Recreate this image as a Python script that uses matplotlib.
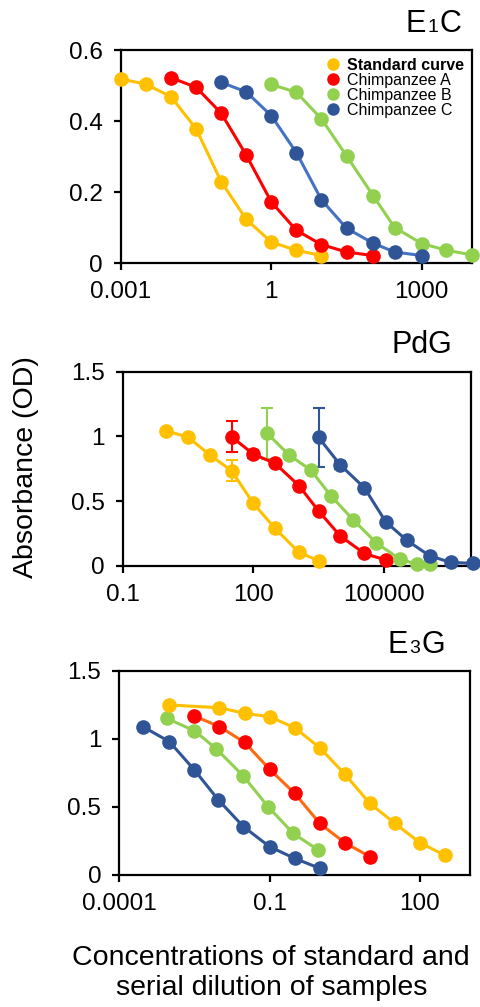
import matplotlib
matplotlib.use('Agg')
import matplotlib.pyplot as plt
from matplotlib.offsetbox import TextArea, HPacker, AnchoredOffsetbox

plt.rcParams['font.family'] = ['Liberation Sans', 'DejaVu Sans']

YELLOW = '#FFC000'
RED = '#FF0000'
GREEN = '#92D050'
BLUE = '#2F5597'

labels = ['Standard curve', 'Chimpanzee A', 'Chimpanzee B', 'Chimpanzee C']

# E1C
e1c_std_x = [0.001, 0.00316, 0.01, 0.0316, 0.1, 0.316, 1, 3.16, 10]
e1c_std_y = [0.518, 0.504, 0.468, 0.378, 0.229, 0.123, 0.059, 0.036, 0.021]
e1c_a_x = [0.01, 0.0316, 0.1, 0.316, 1, 3.16, 10, 31.6, 107]
e1c_a_y = [0.522, 0.495, 0.422, 0.304, 0.172, 0.092, 0.052, 0.031, 0.021]
e1c_b_x = [1, 3.16, 10, 31.6, 107, 288, 1000, 3090, 10000]
e1c_b_y = [0.503, 0.481, 0.406, 0.302, 0.190, 0.100, 0.055, 0.036, 0.023]
e1c_c_x = [0.1, 0.316, 1, 3.16, 10, 31.6, 107, 288, 1000]
e1c_c_y = [0.509, 0.482, 0.415, 0.311, 0.178, 0.098, 0.056, 0.031, 0.021]

# PdG
pdg_std_x = [1, 3.16, 10, 31.6, 100, 316, 1120, 3160]
pdg_std_y = [1.041, 0.995, 0.856, 0.735, 0.482, 0.289, 0.103, 0.039]
pdg_std_err = [0, 0, 0, 0.08, 0, 0, 0, 0]
pdg_a_x = [31.6, 100, 316, 1120, 3160, 10000, 35500, 110000]
pdg_a_y = [0.997, 0.863, 0.791, 0.619, 0.423, 0.229, 0.095, 0.044]
pdg_a_err = [0.12, 0.03, 0, 0, 0, 0, 0, 0]
pdg_b_x = [209, 661, 2090, 6030, 20000, 66100, 229000, 562000, 1120000]
pdg_b_y = [1.023, 0.856, 0.74, 0.541, 0.353, 0.178, 0.052, 0.012, 0.012]
pdg_b_err = [0.2, 0, 0, 0, 0, 0, 0, 0, 0]
pdg_c_x = [3160, 10000, 35500, 110000, 331000, 1120000, 3390000, 11200000]
pdg_c_y = [0.992, 0.778, 0.603, 0.34, 0.198, 0.077, 0.026, 0.018]
pdg_c_err = [0.23, 0.03, 0, 0, 0, 0, 0, 0]

# E3G
e3g_std_x = [0.001, 0.01, 0.0316, 0.1, 0.316, 1, 3.16, 10, 31.6, 100, 316]
e3g_std_y = [1.248, 1.228, 1.187, 1.162, 1.081, 0.935, 0.741, 0.526, 0.379, 0.237, 0.144]
e3g_a_x = [0.00316, 0.01, 0.0316, 0.1, 0.316, 1, 3.16, 10]
e3g_a_y = [1.167, 1.089, 0.974, 0.776, 0.6, 0.379, 0.237, 0.135]
e3g_b_x = [0.00088, 0.00316, 0.0087, 0.0295, 0.093, 0.295, 0.93]
e3g_b_y = [1.15, 1.059, 0.925, 0.729, 0.502, 0.306, 0.184]
e3g_c_x = [0.000295, 0.001, 0.00316, 0.0095, 0.03, 0.1, 0.316, 1]
e3g_c_y = [1.089, 0.979, 0.771, 0.551, 0.355, 0.208, 0.122, 0.049]

fig = plt.figure(figsize=(4.8, 10.07), dpi=100)
ax1 = fig.add_axes([0.252, 0.7388, 0.731, 0.2115])
ax2 = fig.add_axes([0.2556, 0.4382, 0.7256, 0.1927])
ax3 = fig.add_axes([0.2485, 0.1311, 0.7306, 0.2029])

ms = 9.5
lw = 2.2


def style_axes(ax, xlim, ylim, xticks, xticklabels, yticks, yticklabels):
    ax.set_xscale('log')
    ax.set_xlim(*xlim)
    ax.set_ylim(*ylim)
    ax.set_xticks(xticks)
    ax.set_xticklabels(xticklabels)
    ax.minorticks_off()
    ax.set_yticks(yticks)
    ax.set_yticklabels(yticklabels)
    for s in ax.spines.values():
        s.set_linewidth(1.6)
        s.set_color('black')
    ax.tick_params(direction='out', length=5, width=1.6, labelsize=17.5, pad=8)


# panel name with a small digit sitting on the baseline (E1C, E3G)
def panel_title(ax, parts, x, y):
    boxes = [TextArea(t, textprops=dict(fontsize=s)) for t, s in parts]
    pack = HPacker(children=boxes, align='baseline', pad=0, sep=1)
    box = AnchoredOffsetbox(loc='lower right', child=pack, pad=0, borderpad=0,
                            frameon=False, bbox_to_anchor=(x, y),
                            bbox_transform=ax.transAxes)
    ax.add_artist(box)


# E1C panel
ax1.plot(e1c_std_x, e1c_std_y, '-o', color=YELLOW, lw=lw, ms=ms, clip_on=False, zorder=3)
ax1.plot(e1c_a_x, e1c_a_y, '-o', color=RED, lw=lw, ms=ms, clip_on=False, zorder=3)
ax1.plot(e1c_b_x, e1c_b_y, '-o', color=GREEN, lw=lw, ms=ms, clip_on=False, zorder=3)
ax1.plot(e1c_c_x, e1c_c_y, '-o', color='#4472C4', lw=lw, ms=ms, mfc=BLUE, mec=BLUE,
         clip_on=False, zorder=3)
style_axes(ax1, (0.001, 10000), (0, 0.6), [0.001, 1, 1000], ['0.001', '1', '1000'],
           [0, 0.2, 0.4, 0.6], ['0', '0.2', '0.4', '0.6'])
handles = [plt.Line2D([], [], ls='', marker='o', color=c, ms=8)
           for c in [YELLOW, RED, GREEN, BLUE]]
leg = ax1.legend(handles, labels, loc='upper right', frameon=False, fontsize=11.5,
                 handletextpad=0.35, labelspacing=0.0, borderaxespad=0.1,
                 handlelength=1.0)
leg.get_texts()[0].set_fontweight('bold')
panel_title(ax1, [('E', 22), ('1', 14), ('C', 22)], 0.97, 1.05)

# PdG panel
for x, y, e, c in [(pdg_std_x, pdg_std_y, pdg_std_err, YELLOW),
                   (pdg_a_x, pdg_a_y, pdg_a_err, RED),
                   (pdg_b_x, pdg_b_y, pdg_b_err, GREEN),
                   (pdg_c_x, pdg_c_y, pdg_c_err, BLUE)]:
    ax2.errorbar(x, y, yerr=e, fmt='-o', color=c, lw=lw, ms=ms, capsize=4,
                 elinewidth=1.5, capthick=1.5, clip_on=False, zorder=3)
style_axes(ax2, (0.1, 1e7), (0, 1.5), [0.1, 100, 100000], ['0.1', '100', '100000'],
           [0, 0.5, 1, 1.5], ['0', '0.5', '1', '1.5'])
panel_title(ax2, [('PdG', 22)], 0.945, 1.06)

# E3G panel
ax3.plot(e3g_c_x, e3g_c_y, '-o', color=BLUE, lw=lw, ms=ms, clip_on=False, zorder=3)
ax3.plot(e3g_b_x, e3g_b_y, '-o', color=GREEN, lw=lw, ms=ms, clip_on=False, zorder=3)
ax3.plot(e3g_a_x, e3g_a_y, '-o', color='#FF6A10', lw=lw, ms=ms, mfc=RED, mec=RED,
         clip_on=False, zorder=3)
ax3.plot(e3g_std_x, e3g_std_y, '-o', color=YELLOW, lw=lw, ms=ms, clip_on=False, zorder=3)
style_axes(ax3, (0.0001, 1000), (0, 1.5), [0.0001, 0.1, 100], ['0.0001', '0.1', '100'],
           [0, 0.5, 1, 1.5], ['0', '0.5', '1', '1.5'])
panel_title(ax3, [('E', 22), ('3', 14), ('G', 22)], 0.93, 1.05)

fig.text(0.054, 1 - 467 / 1007, 'Absorbance (OD)', rotation=90,
         ha='center', va='center', fontsize=20.5)
fig.text(0.565, 1 - 973 / 1007, 'Concentrations of standard and\nserial dilution of samples',
         ha='center', va='center', fontsize=20.5, linespacing=1.2)

fig.savefig('out.png', dpi=100)
